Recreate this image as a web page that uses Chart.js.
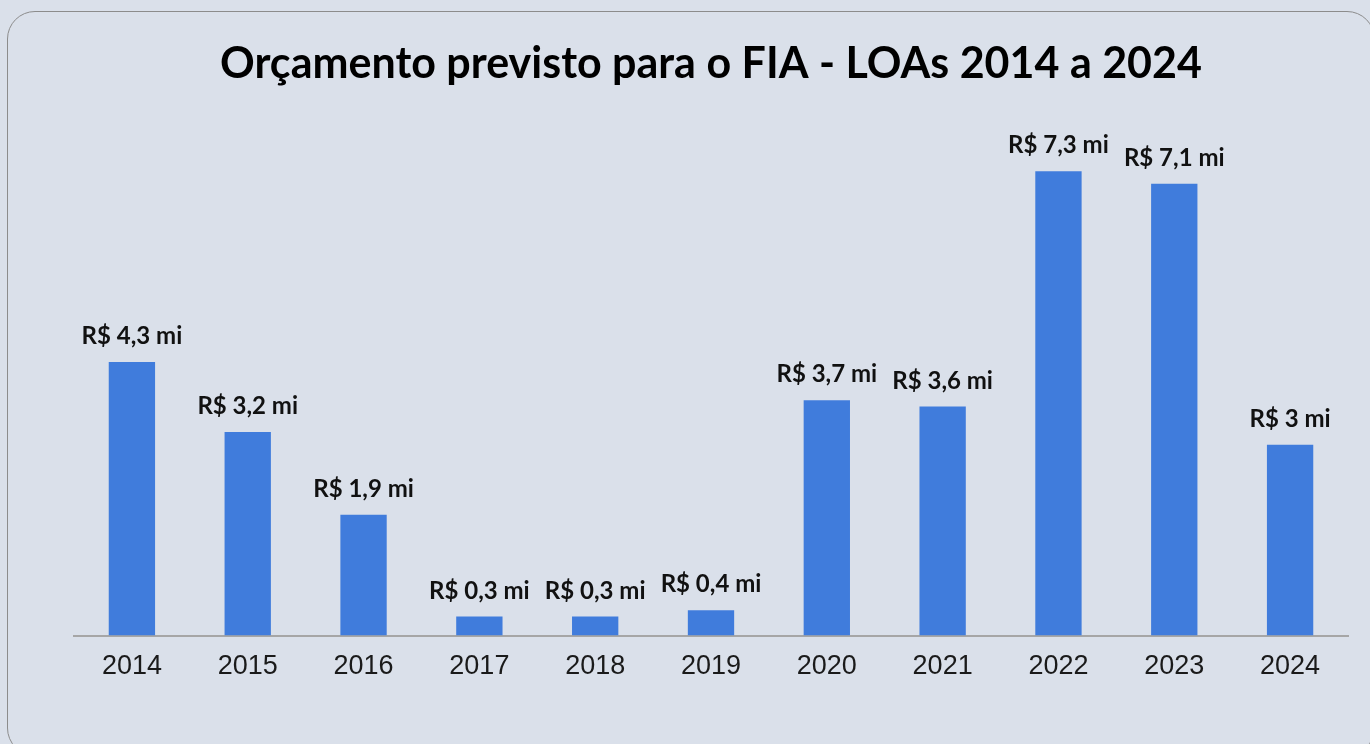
<!DOCTYPE html>
<html>
<head>
<meta charset="utf-8">
<script src="https://cdn.jsdelivr.net/npm/chart.js@4.4.1/dist/chart.umd.min.js"></script>
<style>
  html, body { margin:0; padding:0; background:#dae0ea; width:1370px; height:744px; overflow:hidden; }
  #card { position:absolute; left:7px; top:11px; width:1368px; height:745px; border:1.5px solid #8c8c8c; border-radius:28px; box-sizing:border-box; }
  #c { position:absolute; left:0; top:0; }
</style>
</head>
<body>
<div id="card"></div>
<canvas id="c" width="1370" height="744"></canvas>
<script>
const titleText = "Orçamento previsto para o FIA - LOAs 2014 a 2024";
const years = ["2014","2015","2016","2017","2018","2019","2020","2021","2022","2023","2024"];
const budgetMillions = [4.3, 3.2, 1.9, 0.3, 0.3, 0.4, 3.7, 3.6, 7.3, 7.1, 3.0];

function fmt(v) { return "R$ " + String(v).replace(".", ",") + " mi"; }

const labelPlugin = {
  id: "barLabels",
  afterDatasetsDraw(chart) {
    const ctx = chart.ctx;
    const meta = chart.getDatasetMeta(0);
    ctx.save();
    ctx.font = "bold 24px Lato";
    ctx.fillStyle = "#111111";
    ctx.textAlign = "center";
    ctx.textBaseline = "alphabetic";
    meta.data.forEach((bar, i) => {
      ctx.fillText(fmt(budgetMillions[i]), bar.x, bar.y - 18);
    });
    ctx.restore();
  }
};

new Chart(document.getElementById("c"), {
  type: "bar",
  data: {
    labels: years,
    datasets: [{
      data: budgetMillions,
      backgroundColor: "#407cdc",
      borderWidth: 0,
      barPercentage: 0.4,
      categoryPercentage: 1.0
    }]
  },
  options: {
    responsive: false,
    animation: false,
    layout: { padding: { left: 74, right: 22, top: 0, bottom: 54 } },
    plugins: {
      legend: { display: false },
      tooltip: { enabled: false },
      title: {
        display: true,
        text: titleText,
        color: "#000000",
        font: { family: "Lato", weight: "bold", size: 43 },
        padding: { top: 38, bottom: 37 }
      }
    },
    scales: {
      x: {
        grid: { display: false },
        border: { display: true, color: "#a6a6a6", width: 2 },
        ticks: { color: "#1a1a1a", font: { family: "Liberation Sans", size: 27 }, padding: 7, maxRotation: 0 }
      },
      y: {
        display: false,
        min: 0,
        max: 8
      }
    }
  },
  plugins: [labelPlugin]
});
</script>
</body>
</html>
